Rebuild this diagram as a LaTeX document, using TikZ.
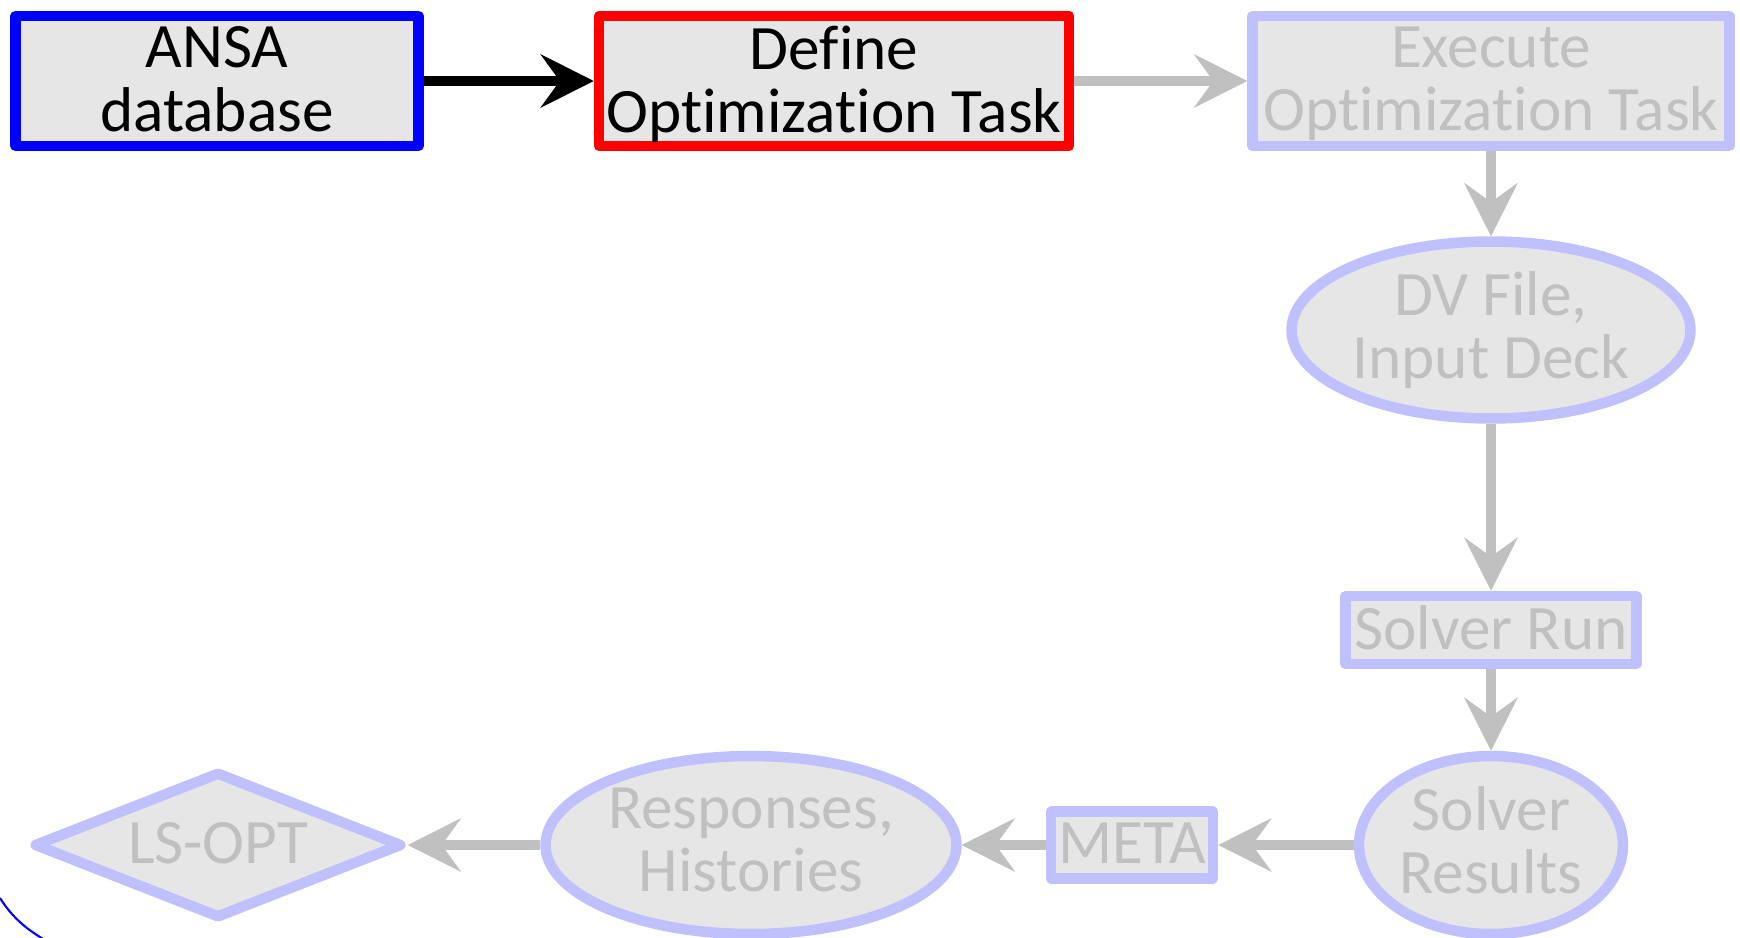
\documentclass[tikz,border=0pt]{standalone}
\usepackage{fontspec}
\setmainfont{Carlito}[Ligatures=NoCommon]
\usepackage{tikz}
\usetikzlibrary{shapes.geometric,arrows.meta}

\definecolor{fadeblue}{RGB}{192,192,255}
\definecolor{fadegray}{RGB}{192,192,192}
\definecolor{boxfill}{RGB}{230,230,230}

\begin{document}
\begin{tikzpicture}[x=0.02cm, y=0.02cm,
    every node/.style={inner sep=0pt, fill=boxfill, line width=0.21cm, line join=round,
        align=center, text depth=0.08cm, font=\fontsize{36}{36}\selectfont},
    fadebox/.style={rectangle, draw=fadeblue, text=fadegray},
    fadeoval/.style={ellipse, draw=fadeblue, text=fadegray, text depth=0.2cm},
    fadediamond/.style={diamond, aspect=2.6, draw=fadeblue, text=fadegray},
    flow/.style={line width=0.2cm, -{Stealth[length=1.06cm, width=1.06cm, inset=0.38cm]}}]
                \useasboundingbox (0,0) rectangle (1740,-937);
                % top row
                \node [draw=blue, minimum width=8.06cm, minimum height=2.6cm] (ansa) at (217,-81) {ANSA\\database};
                \node [draw=red, minimum width=9.4cm, minimum height=2.6cm] (define) at (834,-81) {Define\\Optimization Task};
                \node [fadebox, minimum width=9.54cm, minimum height=2.6cm] (execute) at (1491,-81) {Execute\\Optimization Task};
                % right column
                \node [fadeoval, minimum width=7.98cm, minimum height=3.54cm] (dvfile) at (1491,-330) {DV File,\\Input Deck};
                \node [fadebox, minimum width=5.82cm, minimum height=1.36cm] (solverrun) at (1491,-630) {Solver Run};
                \node [fadeoval, minimum width=5.28cm, minimum height=3.56cm] (results) at (1491,-845) {Solver\\Results};
                % bottom row
                \node [fadebox, minimum width=3.24cm, minimum height=1.34cm] (meta) at (1132,-845) {META};
                \node [fadeoval, minimum width=8.22cm, minimum height=3.56cm] (responses) at (751,-845) {Responses,\\Histories};
                \node [fadediamond, minimum width=7.38cm, minimum height=2.94cm] (lsopt) at (218,-845) {LS-OPT};
                % connectors
                \draw [flow, black] (ansa) -- (define);
                \draw [flow, fadegray] (define) -- (execute);
                \draw [flow, fadegray] (execute) -- (dvfile);
                \draw [flow, fadegray] (dvfile) -- (solverrun);
                \draw [flow, fadegray] (solverrun) -- (results);
                \draw [flow, fadegray] (results) -- (meta);
                \draw [flow, fadegray] (meta) -- (responses);
                \draw [flow, fadegray] (responses) -- (lsopt);
                % cut-off outline in the corner
                \draw [blue, line width=1.2pt] (0,-898) .. controls (12,-917) and (26,-929) .. (45,-940);
            \end{tikzpicture}
\end{document}
